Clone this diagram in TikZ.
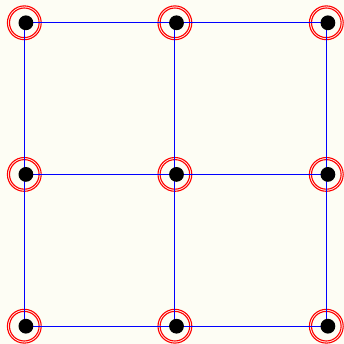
\documentclass[tikz,border=0pt]{standalone}
\definecolor{bgcream}{RGB}{253,253,244}
\tikzset{
  ring/.style={draw=red, line width=1.1pt},
  gridline/.style={draw=blue, line width=1.1pt},
  dot/.style={fill=black},
}
\begin{document}
\begin{tikzpicture}[x=1pt,y=-1pt]
\fill[bgcream] (0,0) rectangle (344,344);
\useasboundingbox (0,0) rectangle (344,344);
\coordinate (p00) at (24.3,22.8);
\coordinate (p10) at (174.9,22.8);
\coordinate (p20) at (326.3,22.8);
\coordinate (p01) at (24.3,174.4);
\coordinate (p11) at (174.9,174.4);
\coordinate (p21) at (326.3,174.4);
\coordinate (p02) at (24.3,326.2);
\coordinate (p12) at (174.9,326.2);
\coordinate (p22) at (326.3,326.2);
\foreach \n in {p00,p10,p20,p01,p11,p21,p02,p12,p22}{
  \draw[ring] (\n) circle (14.8);
  \draw[ring] (\n) circle (16.9);
}
\draw[gridline] (p00) -- (p10) -- (p20);
\draw[gridline] (p01) -- (p11) -- (p21);
\draw[gridline] (p02) -- (p12) -- (p22);
\draw[gridline] (p00) -- (p01) -- (p02);
\draw[gridline] (p10) -- (p11) -- (p12);
\draw[gridline] (p20) -- (p21) -- (p22);
\foreach \n in {p00,p10,p20,p01,p11,p21,p02,p12,p22}{
  \fill[dot] ([xshift=1.6pt]\n) circle (7.4);
}
\end{tikzpicture}
\end{document}
